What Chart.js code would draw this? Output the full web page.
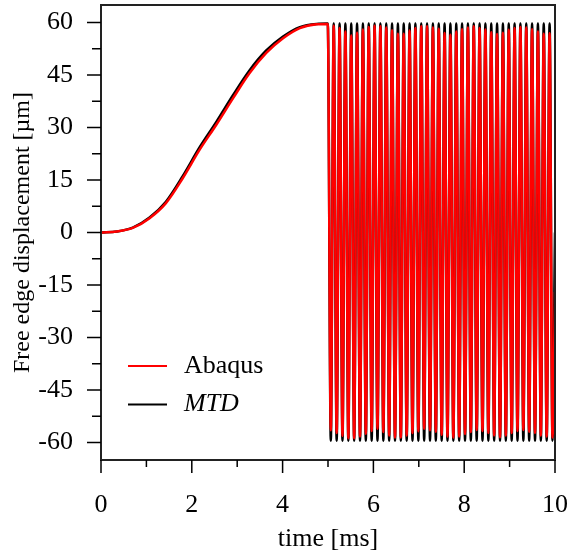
<!DOCTYPE html>
<html>
<head>
<meta charset="utf-8">
<script src="https://cdn.jsdelivr.net/npm/chart.js@4.4.0/dist/chart.umd.min.js"></script>
<style>
  html, body { margin: 0; padding: 0; background: #fff; }
  #wrap { width: 570px; height: 555px; position: relative; }
</style>
</head>
<body>
<div id="wrap"><canvas id="chart"></canvas></div>
<script>
// ramp phase (0 - 5 ms)
const rampTime    = [0, 0.35, 0.7, 1.07, 1.43, 1.8, 2.17, 2.54, 2.91, 3.27, 3.64, 4.01, 4.38, 4.75, 4.995];
const rampAbaqus  = [0, 0.3, 1.3, 4.1, 8.4, 15.5, 23.6, 30.8, 38.4, 45.5, 51.3, 55.5, 58.4, 59.5, 59.6];
const rampMTD     = [0, 0.3, 1.4, 4.3, 8.8, 16.1, 24.3, 31.6, 39.3, 46.3, 52.0, 56.0, 58.7, 59.6, 59.7];

// free vibration (5 - 10 ms): times of troughs and peaks
const troughTime = [5.062, 5.191, 5.319, 5.448, 5.576, 5.705, 5.833, 5.962, 6.090, 6.219,
                    6.347, 6.476, 6.604, 6.733, 6.861, 6.990, 7.118, 7.247, 7.375, 7.504,
                    7.632, 7.761, 7.889, 8.018, 8.146, 8.275, 8.403, 8.532, 8.660, 8.789,
                    8.917, 9.046, 9.174, 9.303, 9.431, 9.560, 9.688, 9.817, 9.945];
const peakTime   = [5.126, 5.255, 5.383, 5.512, 5.640, 5.769, 5.897, 6.026, 6.154, 6.283,
                    6.411, 6.540, 6.668, 6.797, 6.925, 7.054, 7.182, 7.311, 7.439, 7.568,
                    7.696, 7.825, 7.953, 8.082, 8.210, 8.339, 8.467, 8.596, 8.724, 8.853,
                    8.981, 9.110, 9.238, 9.367, 9.495, 9.624, 9.752, 9.881];
const abaqusTrough = [-56.5, -57.3, -58.1, -58.8, -58.8, -58.3, -57.5, -56.7, -56.1, -57.0,
                      -58.0, -58.6, -58.6, -58.0, -57.3, -56.8, -56.1, -56.5, -56.9, -57.8,
                      -58.3, -58.6, -58.3, -57.6, -57.0, -56.4, -56.7, -57.3, -58.0, -58.5,
                      -58.0, -57.3, -56.7, -56.4, -56.9, -57.3, -58.0, -58.3, -58.6];
const abaqusPeak   = [59.1, 58.4, 57.4, 56.3, 57.1, 58.0, 58.7, 59.1, 58.9, 58.6,
                      57.8, 56.8, 56.8, 57.7, 58.4, 58.9, 58.9, 58.6, 58.2, 57.0,
                      56.5, 57.4, 58.1, 58.6, 58.9, 58.4, 58.0, 57.2, 56.7, 57.1,
                      57.9, 58.4, 58.7, 58.6, 58.1, 57.4, 56.8, 56.9];
const mtdTrough = [-59.5, -59.5, -59.5, -59.5, -59.5, -59.5, -59.5, -59.5, -59.5, -59.5,
                   -59.5, -59.5, -59.5, -59.5, -59.5, -59.5, -59.5, -59.5, -59.5, -59.5,
                   -59.5, -59.5, -59.5, -59.5, -59.5, -59.5, -59.5, -59.5, -59.5, -59.5,
                   -59.5, -59.5, -59.5, -59.5, -59.5, -59.5, -59.5, -59.5, -59.5];
const mtdPeak   = [59.7, 59.7, 59.7, 59.7, 59.7, 59.7, 59.7, 59.7, 59.7, 59.7,
                   59.7, 59.7, 59.7, 59.7, 59.7, 59.7, 59.7, 59.7, 59.7, 59.7,
                   59.7, 59.7, 59.7, 59.7, 59.7, 59.7, 59.7, 59.7, 59.7, 59.7,
                   59.7, 59.7, 59.7, 59.7, 59.7, 59.7, 59.7, 59.7];
const endTime = 10;
const endAbaqus = -17;
const endMTD = 0;

const xTicks = [0, 2, 4, 6, 8, 10];
const xMinorTicks = [1, 3, 5, 7, 9];
const yTicks = [-60, -45, -30, -15, 0, 15, 30, 45, 60];
const yMinorTicks = [-52.5, -37.5, -22.5, -7.5, 7.5, 22.5, 37.5, 52.5];

function buildSeries(ramp, troughs, peaks, endVal) {
    const pts = rampTime.map((t, i) => ({ x: t, y: ramp[i] }));
    troughTime.forEach((t, i) => {
        pts.push({ x: t, y: troughs[i] });
        if (i < peakTime.length) pts.push({ x: peakTime[i], y: peaks[i] });
    });
    pts.push({ x: endTime, y: endVal });
    return pts;
}

const FAMILY = "'Liberation Serif', 'Times New Roman', serif";
const FONT = { family: FAMILY, size: 26 };

function noPad(s) {
    s.paddingTop = 0; s.paddingBottom = 0; s.paddingLeft = 0; s.paddingRight = 0;
}

// tick marks (major/minor) drawn outside the frame
const tickMarks = {
    id: 'tickMarks',
    afterDraw(chart) {
        const { ctx, chartArea: a, scales: { x, y } } = chart;
        ctx.save();
        ctx.strokeStyle = '#000';
        ctx.lineWidth = 1.5;
        ctx.beginPath();
        xTicks.forEach(v => { const px = x.getPixelForValue(v); ctx.moveTo(px, a.bottom); ctx.lineTo(px, a.bottom + 13); });
        xMinorTicks.forEach(v => { const px = x.getPixelForValue(v); ctx.moveTo(px, a.bottom); ctx.lineTo(px, a.bottom + 7); });
        yTicks.forEach(v => { const py = y.getPixelForValue(v); ctx.moveTo(a.left, py); ctx.lineTo(a.left - 14, py); });
        yMinorTicks.forEach(v => { const py = y.getPixelForValue(v); ctx.moveTo(a.left, py); ctx.lineTo(a.left - 9, py); });
        ctx.stroke();
        ctx.restore();
    }
};

const frameBox = {
    id: 'frameBox',
    afterDatasetsDraw(chart) {
        const { ctx, chartArea: a } = chart;
        ctx.save();
        ctx.strokeStyle = '#222';
        ctx.lineWidth = 2;
        ctx.strokeRect(a.left, a.top, a.right - a.left, a.bottom - a.top);
        ctx.restore();
    }
};

const insideLegend = {
    id: 'insideLegend',
    afterDraw(chart) {
        const { ctx, chartArea: a } = chart;
        const styles = ['normal', 'italic'];
        ctx.save();
        chart.data.datasets.forEach((ds, i) => {
            const yy = a.top + 361 + i * 38.5;
            ctx.strokeStyle = ds.borderColor;
            ctx.lineWidth = 2;
            ctx.beginPath();
            ctx.moveTo(a.left + 27, yy);
            ctx.lineTo(a.left + 66, yy);
            ctx.stroke();
            ctx.fillStyle = '#000';
            ctx.font = styles[i] + ' 26px ' + FAMILY;
            ctx.textBaseline = 'middle';
            ctx.fillText(ds.label, a.left + 83, yy);
        });
        ctx.restore();
    }
};

new Chart(document.getElementById('chart'), {
    type: 'line',
    data: {
        datasets: [
            {
                label: 'Abaqus',
                data: buildSeries(rampAbaqus, abaqusTrough, abaqusPeak, endAbaqus),
                borderColor: '#ff0000',
                borderWidth: 2.5,
                pointRadius: 0,
                cubicInterpolationMode: 'monotone',
                borderJoinStyle: 'round'
            },
            {
                label: 'MTD',
                data: buildSeries(rampMTD, mtdTrough, mtdPeak, endMTD),
                borderColor: '#000000',
                borderWidth: 2.5,
                pointRadius: 0,
                cubicInterpolationMode: 'monotone',
                borderJoinStyle: 'round'
            }
        ]
    },
    options: {
        responsive: true,
        maintainAspectRatio: false,
        animation: false,
        devicePixelRatio: 1,
        layout: { padding: { top: 5, right: 15, left: 0, bottom: 0 } },
        plugins: { legend: { display: false }, tooltip: { enabled: false } },
        scales: {
            x: {
                type: 'linear',
                min: 0, max: 10,
                afterBuildTicks: s => { s.ticks = xTicks.map(v => ({ value: v })); },
                afterFit: s => { s.height = 95; noPad(s); },
                grid: { display: false },
                border: { display: false },
                ticks: { font: FONT, color: '#000', padding: 22, maxRotation: 0, autoSkip: false },
                title: { display: true, text: 'time [ms]', font: FONT, color: '#000', padding: 0 }
            },
            y: {
                type: 'linear',
                min: -65, max: 65,
                afterBuildTicks: s => { s.ticks = yTicks.map(v => ({ value: v })); },
                afterFit: s => { s.width = 101; noPad(s); },
                grid: { display: false },
                border: { display: false },
                ticks: { font: FONT, color: '#000', padding: 20, autoSkip: false },
                title: { display: true, text: 'Free edge displacement [µm]', font: { family: FAMILY, size: 24 }, color: '#000', padding: { top: 8, bottom: 0 } }
            }
        }
    },
    plugins: [tickMarks, frameBox, insideLegend]
});
</script>
</body>
</html>
